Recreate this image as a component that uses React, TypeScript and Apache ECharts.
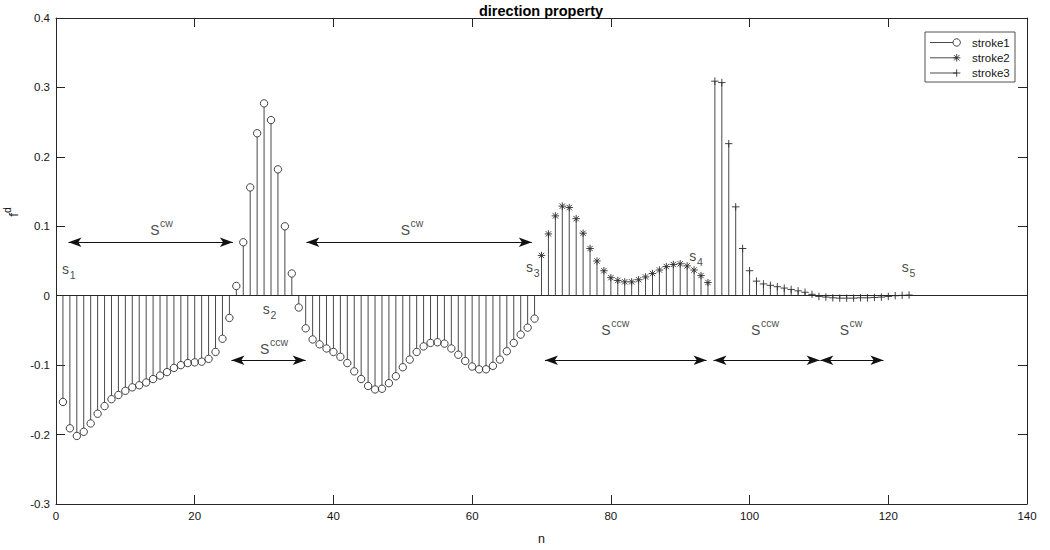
import React, { useEffect, useRef } from "react";
import * as echarts from "echarts";

// ---------------- data ----------------
const seriesNames = ["stroke1", "stroke2", "stroke3"];
const markerKinds = ["circle", "star", "plus"];

const stroke1Start = 1;
const stroke1Values = [
  -0.153, -0.191, -0.202, -0.196, -0.184, -0.17, -0.159, -0.149, -0.143, -0.137,
  -0.132, -0.129, -0.125, -0.12, -0.115, -0.11, -0.104, -0.1, -0.097, -0.096,
  -0.095, -0.091, -0.081, -0.062, -0.032, 0.014, 0.077, 0.156, 0.234, 0.277,
  0.253, 0.182, 0.1, 0.032, -0.017, -0.047, -0.063, -0.07, -0.076, -0.081,
  -0.088, -0.097, -0.109, -0.12, -0.13, -0.135, -0.134, -0.126, -0.116, -0.103,
  -0.092, -0.081, -0.073, -0.068, -0.067, -0.069, -0.076, -0.085, -0.094, -0.102,
  -0.106, -0.106, -0.101, -0.092, -0.08, -0.068, -0.056, -0.046, -0.033,
];
const stroke2Start = 70;
const stroke2Values = [
  0.058, 0.089, 0.115, 0.129, 0.127, 0.111, 0.09, 0.068, 0.05, 0.036,
  0.026, 0.022, 0.02, 0.02, 0.023, 0.027, 0.032, 0.037, 0.042, 0.045,
  0.046, 0.043, 0.037, 0.029, 0.019,
];
const stroke3Start = 95;
const stroke3Values = [
  0.309, 0.307, 0.219, 0.128, 0.068, 0.036, 0.021, 0.017, 0.015, 0.013,
  0.011, 0.009, 0.007, 0.005, 0.002, -0.001, -0.002, -0.003, -0.0035, -0.0035,
  -0.0035, -0.003, -0.003, -0.0025, -0.002, -0.001, 0, 0.0005, 0.001,
];

const xMin = 0;
const xMax = 140;
const xInterval = 20;
const yMin = -0.3;
const yMax = 0.4;
const yInterval = 0.1;

// segment arrows (annotations)
const arrowFrom = [1.8, 25.3, 36.1, 70.5, 94.8, 110.2];
const arrowTo = [25.5, 36.0, 68.6, 93.8, 110.1, 119.3];
const arrowY = [0.077, -0.093, 0.077, -0.093, -0.093, -0.093];

// segment labels S^cw / S^ccw (anchor = join of "S" and its superscript)
const segLabelMain = ["S", "S", "S", "S", "S", "S"];
const segLabelSup = ["cw", "ccw", "cw", "ccw", "ccw", "cw"];
const segLabelX = [14.93, 30.77, 51.05, 79.97, 101.57, 114.35];
const segLabelY = [0.0947, -0.0763, 0.0947, -0.049, -0.049, -0.049];

// point labels s_i (anchor = join of "s" and its subscript)
const pointLabelMain = ["s", "s", "s", "s", "s"];
const pointLabelSub = ["1", "2", "3", "4", "5"];
const pointLabelX = [1.88, 30.81, 68.78, 92.32, 122.96];
const pointLabelY = [0.0387, -0.0188, 0.042, 0.0578, 0.042];

const titleText = "direction property";
const xName = "n";
const yNameMain = "f";
const yNameSup = "d";

// ---------------- styling ----------------
const FONT = '"Liberation Sans", Arial, Helvetica, sans-serif';
const INK = "#262626";
const TXT = "#141414";
const STEM = "#4a4a4a";
const MARK = "#2e2e2e";

function markerElements(kind: string, cx: number, cy: number): any[] {
  const r = 3.7;
  const st = { stroke: MARK, lineWidth: 0.9, fill: "none" };
  if (kind === "circle") {
    return [{ type: "circle", shape: { cx, cy, r }, style: { ...st } }];
  }
  const els: any[] = [
    { type: "line", shape: { x1: cx - r, y1: cy, x2: cx + r, y2: cy }, style: { ...st } },
    { type: "line", shape: { x1: cx, y1: cy - r, x2: cx, y2: cy + r }, style: { ...st } },
  ];
  if (kind === "star") {
    const d = r * 0.72;
    els.push(
      { type: "line", shape: { x1: cx - d, y1: cy - d, x2: cx + d, y2: cy + d }, style: { ...st } },
      { type: "line", shape: { x1: cx - d, y1: cy + d, x2: cx + d, y2: cy - d }, style: { ...st } }
    );
  }
  return els;
}

function stemRender(kind: string) {
  return (params: any, api: any) => {
    const x = api.value(0);
    const y = api.value(1);
    const base = api.coord([x, 0]);
    const tip = api.coord([x, y]);
    const dir = tip[1] < base[1] ? 1 : -1;
    const off = kind === "circle" ? 3.7 * dir : 0;
    return {
      type: "group",
      children: [
        {
          type: "line",
          shape: { x1: base[0], y1: base[1], x2: tip[0], y2: tip[1] + off },
          style: { stroke: STEM, lineWidth: 1 },
        },
        ...markerElements(kind, tip[0], tip[1]),
      ],
    };
  };
}

function textSeries(
  name: string,
  xs: number[],
  ys: number[],
  texts: string[],
  fontSize: number,
  align: string,
  offset: number[]
) {
  return {
    type: "scatter",
    name,
    data: texts.map((t, i) => ({ value: [xs[i], ys[i]], txt: t })),
    symbolSize: 0,
    silent: true,
    itemStyle: { color: TXT },
    label: {
      show: true,
      position: [0, 0],
      align,
      verticalAlign: "middle",
      offset,
      color: TXT,
      fontFamily: FONT,
      fontSize,
      textBorderWidth: 0,
      formatter: (p: any) => p.data.txt,
    },
  };
}

export default function App() {
  const ref = useRef<HTMLDivElement>(null);
  useEffect(() => {
    if (!ref.current) return;
    const chart = echarts.init(ref.current, undefined, { renderer: "svg" });

    const strokes = [
      { start: stroke1Start, values: stroke1Values },
      { start: stroke2Start, values: stroke2Values },
      { start: stroke3Start, values: stroke3Values },
    ];

    const stemSeries: any[] = strokes.map((s, k) => ({
      type: "custom",
      name: seriesNames[k],
      data: s.values.map((v, i) => [s.start + i, v]),
      encode: { x: 0, y: 1 },
      renderItem: stemRender(markerKinds[k]),
      z: 3,
      silent: true,
    }));
    stemSeries[0].markLine = {
      silent: true,
      symbol: ["none", "none"],
      label: { show: false },
      lineStyle: { color: INK, type: "solid", width: 1 },
      data: [{ yAxis: 0 }],
    };

    const segMain: any = textSeries("segMain", segLabelX, segLabelY, segLabelMain, 14, "right", [0, 0]);
    segMain.markLine = {
      silent: true,
      symbol: ["arrow", "arrow"],
      symbolSize: [7, 13],
      label: { show: false },
      lineStyle: { color: "#111", type: "solid", width: 1 },
      itemStyle: { color: "#111" },
      data: arrowFrom.map((x1, i) => [
        { coord: [x1, arrowY[i]] },
        { coord: [arrowTo[i], arrowY[i]] },
      ]),
    };
    const segSup = textSeries("segSup", segLabelX, segLabelY, segLabelSup, 10.5, "left", [0.5, -7]);
    const ptMain = textSeries("ptMain", pointLabelX, pointLabelY, pointLabelMain, 14, "right", [0, 0]);
    const ptSub = textSeries("ptSub", pointLabelX, pointLabelY, pointLabelSub, 10.5, "left", [0.8, 6]);

    const axisLineStyle = { color: INK, width: 1 };
    const commonX = {
      type: "value",
      min: xMin,
      max: xMax,
      interval: xInterval,
      splitLine: { show: false },
      axisLine: { show: true, onZero: false, lineStyle: axisLineStyle },
      axisTick: { show: true, inside: true, length: 9, lineStyle: axisLineStyle },
    };
    const commonY = {
      type: "value",
      min: yMin,
      max: yMax,
      interval: yInterval,
      splitLine: { show: false },
      axisLine: { show: true, onZero: false, lineStyle: axisLineStyle },
      axisTick: { show: true, inside: true, length: 9, lineStyle: axisLineStyle },
    };

    const legendRows = [42.5, 57.8, 73];
    const legendChildren: any[] = [
      {
        type: "rect",
        shape: { x: 925, y: 32, width: 90, height: 50 },
        style: { fill: "#fff", stroke: INK, lineWidth: 0.8 },
      },
    ];
    seriesNames.forEach((name, k) => {
      const y = legendRows[k];
      const endX = markerKinds[k] === "circle" ? 953 : 957;
      legendChildren.push({
        type: "line",
        shape: { x1: 930, y1: y, x2: endX, y2: y },
        style: { stroke: STEM, lineWidth: 1 },
      });
      markerElements(markerKinds[k], 956.7, y).forEach((e) => legendChildren.push(e));
      legendChildren.push({
        type: "text",
        x: 972,
        y,
        style: {
          text: name,
          font: `11.5px ${FONT}`,
          fill: TXT,
          verticalAlign: "middle",
          align: "left",
        },
      });
    });

    chart.setOption({
      animation: false,
      backgroundColor: "#fff",
      title: {
        text: titleText,
        left: 541,
        top: 3,
        padding: 0,
        textAlign: "center",
        textStyle: { fontFamily: FONT, fontSize: 14.5, fontWeight: "bold", color: "#000" },
      },
      grid: { left: 56, right: 23, top: 18, bottom: 45, containLabel: false },
      xAxis: [
        {
          ...commonX,
          position: "bottom",
          name: xName,
          nameLocation: "middle",
          nameGap: 28,
          nameTextStyle: { fontFamily: FONT, fontSize: 12.5, color: TXT },
          axisLabel: { show: true, fontFamily: FONT, fontSize: 11.5, color: TXT, margin: 6 },
        },
        { ...commonX, position: "top", axisLabel: { show: false } },
      ],
      yAxis: [
        {
          ...commonY,
          position: "left",
          axisLabel: {
            show: true,
            fontFamily: FONT,
            fontSize: 11.5,
            color: TXT,
            margin: 6,
            formatter: (v: number) => String(Math.round(v * 10) / 10),
          },
        },
        { ...commonY, position: "right", axisLabel: { show: false } },
      ],
      series: [...stemSeries, segMain, segSup, ptMain, ptSub],
      graphic: [
        {
          type: "text",
          x: 13,
          y: 213,
          rotation: Math.PI / 2,
          style: {
            text: yNameMain,
            font: `13.5px ${FONT}`,
            fill: TXT,
            align: "right",
            verticalAlign: "middle",
          },
        },
        {
          type: "text",
          x: 7,
          y: 213,
          rotation: Math.PI / 2,
          style: {
            text: yNameSup,
            font: `10.5px ${FONT}`,
            fill: TXT,
            align: "left",
            verticalAlign: "middle",
          },
        },
        { type: "group", z: 100, children: legendChildren },
      ],
    });

    return () => chart.dispose();
  }, []);

  return (
    <div
      ref={ref}
      style={{ position: "fixed", left: 0, top: 0, width: 1050, height: 550, background: "#fff" }}
    />
  );
}
